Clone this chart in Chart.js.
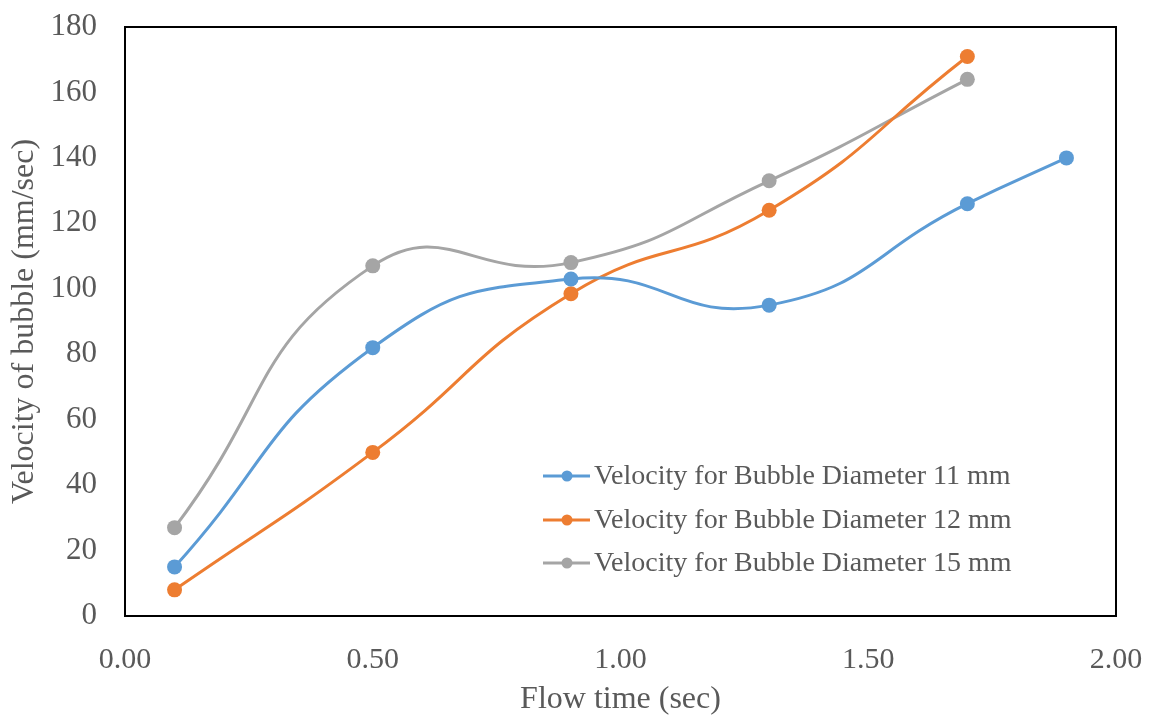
<!DOCTYPE html>
<html>
<head>
<meta charset="utf-8">
<script src="https://cdn.jsdelivr.net/npm/chart.js@4.4.1/dist/chart.umd.min.js"></script>
<style>
  html, body { margin: 0; padding: 0; background: #fff; }
  #wrap { width: 1159px; height: 715px; position: relative; }
</style>
</head>
<body>
<div id="wrap"><canvas id="bubbleChart"></canvas></div>
<script>
// --- data ---
const flowTime11 = [0.1, 0.5, 0.9, 1.3, 1.7, 1.9];
const velocity11 = [15, 82, 103, 95, 126, 140];
const flowTime12 = [0.1, 0.5, 0.9, 1.3, 1.7];
const velocity12 = [8, 50, 98.5, 124, 171];
const flowTime15 = [0.1, 0.5, 0.9, 1.3, 1.7];
const velocity15 = [27, 107, 108, 133, 164];
const seriesLabels = [
  'Velocity for Bubble Diameter 11 mm',
  'Velocity for Bubble Diameter 12 mm',
  'Velocity for Bubble Diameter 15 mm'
];
const seriesColors = ['#5B9BD5', '#ED7D31', '#A5A5A5'];

const toPoints = (xs, ys) => xs.map((x, i) => ({ x: x, y: ys[i] }));

const FONT = "'Liberation Serif', 'Times New Roman', serif";
const TEXT = '#595959';

// black frame around the plot area
const frame = {
  id: 'frame',
  afterDraw(chart) {
    const { ctx, chartArea: a } = chart;
    ctx.save();
    ctx.strokeStyle = '#000';
    ctx.lineWidth = 2;
    ctx.strokeRect(a.left, a.top, a.right - a.left, a.bottom - a.top);
    ctx.restore();
  }
};

// legend drawn inside the plot, lower right
const insideLegend = {
  id: 'insideLegend',
  afterDraw(chart) {
    const { ctx } = chart;
    const x0 = 543, rowY = [476, 520, 563];
    ctx.save();
    ctx.font = '28px ' + FONT;
    ctx.textBaseline = 'middle';
    chart.data.datasets.forEach((ds, i) => {
      const y = rowY[i];
      ctx.strokeStyle = ds.borderColor;
      ctx.lineWidth = 3;
      ctx.beginPath();
      ctx.moveTo(x0, y);
      ctx.lineTo(x0 + 47, y);
      ctx.stroke();
      ctx.fillStyle = ds.borderColor;
      ctx.beginPath();
      ctx.arc(x0 + 24, y, 5.5, 0, Math.PI * 2);
      ctx.fill();
      ctx.fillStyle = TEXT;
      ctx.fillText(ds.label, x0 + 51, y + 1);
    });
    ctx.restore();
  }
};

const makeSet = (i, xs, ys) => ({
  label: seriesLabels[i],
  data: toPoints(xs, ys),
  borderColor: seriesColors[i],
  backgroundColor: seriesColors[i],
  borderWidth: 3,
  pointRadius: 7.5,
  pointBorderWidth: 0,
  showLine: true,
  tension: 0.5
});

new Chart(document.getElementById('bubbleChart'), {
  type: 'scatter',
  data: {
    datasets: [
      makeSet(0, flowTime11, velocity11),
      makeSet(1, flowTime12, velocity12),
      makeSet(2, flowTime15, velocity15)
    ]
  },
  options: {
    responsive: true,
    maintainAspectRatio: false,
    animation: false,
    layout: { padding: { top: 27, right: 43, left: 0, bottom: 0 } },
    plugins: {
      legend: { display: false },
      tooltip: { enabled: false }
    },
    scales: {
      x: {
        type: 'linear',
        min: 0, max: 2,
        afterFit: (s) => { s.height = 99; s.paddingLeft = 0; s.paddingRight = 0; },
        grid: { display: false, drawTicks: false },
        border: { display: false },
        ticks: {
          stepSize: 0.5,
          padding: 26,
          color: TEXT,
          font: { family: FONT, size: 30 },
          callback: (v) => v.toFixed(2)
        },
        title: {
          display: true,
          text: 'Flow time (sec)',
          color: TEXT,
          font: { family: FONT, size: 32 },
          padding: { top: 10, bottom: -4 }
        }
      },
      y: {
        min: 0, max: 180,
        afterFit: (s) => { s.width = 125; s.paddingTop = 0; s.paddingBottom = 0; },
        grid: { display: false, drawTicks: false },
        border: { display: false },
        ticks: {
          stepSize: 20,
          padding: 28,
          color: TEXT,
          font: { family: FONT, size: 31 }
        },
        title: {
          display: true,
          text: 'Velocity of bubble (mm/sec)',
          color: TEXT,
          font: { family: FONT, size: 32 },
          padding: { top: 5, bottom: 0 }
        }
      }
    }
  },
  plugins: [frame, insideLegend]
});
</script>
</body>
</html>
